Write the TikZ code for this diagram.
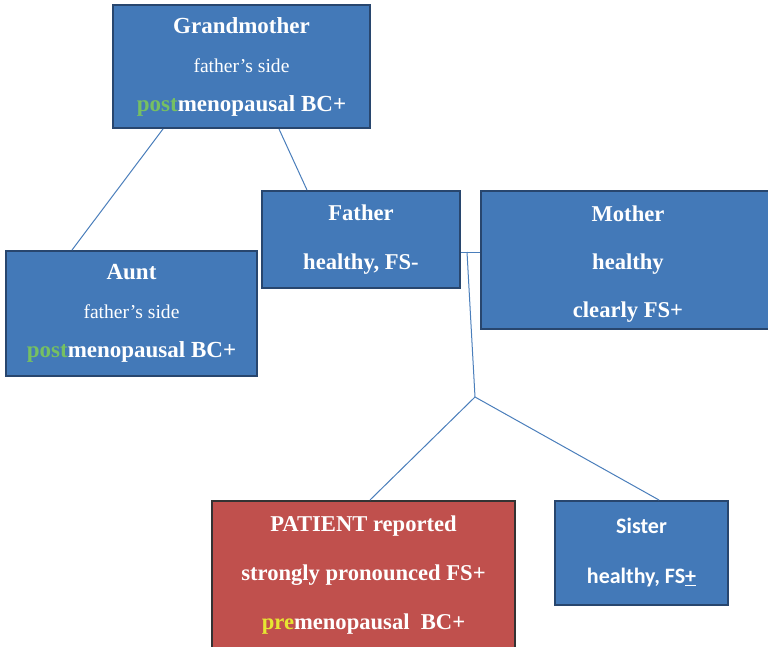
\documentclass[tikz,border=0pt]{standalone}
\usepackage{fontspec}
\setmainfont{Liberation Serif}
\newfontfamily\calibri{Carlito}
\definecolor{famblue}{RGB}{67,121,184}
\definecolor{famedge}{RGB}{40,70,110}
\definecolor{patred}{RGB}{192,80,77}
\definecolor{linkblue}{RGB}{74,126,187}
\definecolor{postgreen}{RGB}{118,192,98}
\definecolor{preyellow}{RGB}{230,230,50}
\begin{document}
\begin{tikzpicture}[x=1pt,y=-1pt,
        fambox/.style={rectangle, fill=famblue, draw=famedge, line width=2pt, text=white, align=center, inner sep=0pt},
        link/.style={draw=linkblue, line width=1pt}]
            \useasboundingbox (0,0) rectangle (768,647);
            %Boxes
            \node[fambox, minimum width=257, minimum height=123, font=\fontsize{23}{39}\selectfont\bfseries] (gm) at (241.5,66.5)
                {Grandmother\\ {\mdseries\fontsize{19.6}{39}\selectfont father's side}\\ \textcolor{postgreen}{post}menopausal BC+};
            \node[fambox, minimum width=251, minimum height=125, font=\fontsize{23}{39}\selectfont\bfseries] (aunt) at (131.5,313.5)
                {Aunt\\ {\mdseries\fontsize{19.6}{39}\selectfont father's side}\\ \textcolor{postgreen}{post}menopausal BC+};
            \node[fambox, minimum width=198, minimum height=97, font=\fontsize{22.6}{49}\selectfont\bfseries] (father) at (361,239.5)
                {Father\\ healthy, FS-};
            \node[fambox, minimum width=294, minimum height=138, font=\fontsize{22.6}{48}\selectfont\bfseries] (mother) at (628,260)
                {\rule{0pt}{23pt}Mother\\ healthy\\ clearly FS+};
            \node[fambox, fill=patred, draw=black!80, minimum width=303, minimum height=148, font=\fontsize{22.6}{49}\selectfont\bfseries] (patient) at (363.5,575)
                {PATIENT reported\\ strongly pronounced FS+\\ \textcolor{preyellow}{pre}menopausal\ \ BC+};
            \node[fambox, minimum width=173, minimum height=104, font=\calibri\fontsize{22}{50}\selectfont\bfseries] (sister) at (641.5,553)
                {Sister\\ healthy, FS\underline{+}};
            %
            %Lines
            \draw[link] ([xshift=-78.5pt]gm.south) -- ([xshift=-59.5pt]aunt.north);
            \draw[link] ([xshift=37.5pt]gm.south) -- ([xshift=-54pt]father.north);
            \draw[link] ([yshift=-12.5pt]father.east) -- (mother.west |- 0,252);
            \coordinate (marr) at (467,252);
            \coordinate (kids) at (475,397);
            \draw[link] (marr) -- (kids);
            \draw[link] (kids) -- ([xshift=6.5pt]patient.north);
            \draw[link] (kids) -- ([xshift=17.5pt]sister.north);
        \end{tikzpicture}
\end{document}
